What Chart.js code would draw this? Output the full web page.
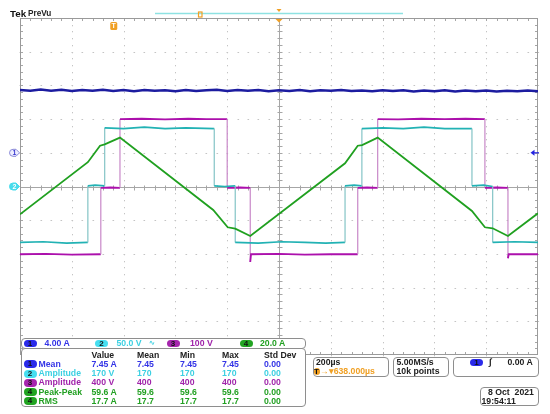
<!DOCTYPE html>
<html>
<head>
<meta charset="utf-8">
<script src="https://cdn.jsdelivr.net/npm/chart.js@4"></script>
<style>
body { margin: 0; background: #fff; }
#wrap { position: relative; width: 550px; height: 414px; overflow: hidden;
  font-family: "Liberation Sans", Arial, sans-serif; font-weight: bold; }
#wrap canvas { position: absolute; left: 0; top: 0; }
.t { position: absolute; white-space: pre; line-height: 1; }
.box { position: absolute; background: #fff; border: 1px solid #8e8e8e; border-radius: 4px; box-sizing: border-box; }
.pill { position: absolute; border-radius: 4px; text-align: center; color: #111; font-size: 8px; }
</style>
</head>
<body>
<div id="wrap"><canvas id="scope" width="550" height="414"></canvas></div>
<script>
// horizontal: 200 us/div, 10 divisions; vertical: 10 divisions
const timeTicks = [0, 200, 400, 600, 800, 1000, 1200, 1400, 1600, 1800, 2000];
const divTicks = [-5, -4, -3, -2, -1, 0, 1, 2, 3, 4, 5];
const triggerDelay = 638; // us, from trigger to screen centre

// channel settings (units per division, ground position in divisions)
const chScale = [4, 50, 100, 20];
const chOffset = [1, 0, 0, 0];

// ch1 current, one sample every 40 us
const ch1Step = 40;
const ch1Amps = [
  7.46, 7.36, 7.50, 7.38, 7.47, 7.33, 7.44, 7.37, 7.49, 7.35,
  7.44, 7.32, 7.46, 7.36, 7.42, 7.31, 7.45, 7.35, 7.41, 7.47,
  7.34, 7.44, 7.36, 7.46, 7.32, 7.42, 7.35, 7.45, 7.31, 7.41,
  7.36, 7.46, 7.33, 7.40, 7.30, 7.42, 7.34, 7.41, 7.29, 7.39,
  7.32, 7.41, 7.28, 7.38, 7.31, 7.40, 7.27, 7.37, 7.30, 7.39, 7.32
];

// ch2 voltage
const ch2Times = [0, 90, 180, 262, 262, 290, 327, 327, 400, 480, 560, 640, 750, 750, 790, 831,
  831, 920, 1010, 1100, 1180, 1255, 1255, 1290, 1320, 1320, 1400, 1480, 1560, 1640, 1745,
  1745, 1790, 1825, 1825, 1910, 2000];
const ch2Volts = [-83, -82, -84, -83, 1, 2, 1, 87, 86, 88, 86, 87, 86, 1, 0, 1,
  -83, -84, -82, -83, -84, -83, 1, 2, 1, 86, 87, 86, 88, 86, 86,
  1, 2, 0, -83, -82, -83];

// ch3 voltage
const ch3Times = [0, 100, 200, 312, 312, 350, 386, 386, 470, 560, 650, 720, 800, 800, 850, 889,
  889, 892, 1000, 1100, 1200, 1304, 1304, 1340, 1381, 1381, 1460, 1550, 1640, 1720, 1795,
  1795, 1840, 1884, 1884, 1887, 2000];
const ch3Volts = [-201, -200, -202, -201, -4, -3, -4, 200, 201, 199, 201, 200, 200, -4, -3, -4,
  -224, -201, -200, -202, -201, -201, -4, -3, -4, 200, 199, 201, 200, 201, 200,
  -4, -3, -4, -213, -201, -201];

// ch4 current
const ch4Times = [0, 262, 309, 327, 386, 746, 802, 831, 889, 1255, 1304, 1321, 1381, 1745, 1795, 1825, 1884, 2000];
const ch4Amps = [-16.5, 14.4, 24.2, 25.0, 29.0, -13.9, -24.2, -25.0, -29.4, 13.8, 24.2, 24.6, 29.0, -14.5, -24.2, -24.8, -29.4, -15.9];

// readouts
const chLabels = ['4.00 A', '50.0 V', '100 V', '20.0 A'];
const measCh = [1, 2, 3, 4, 4];
const measNames = ['Mean', 'Amplitude', 'Amplitude', 'Peak-Peak', 'RMS'];
const measValue = ['7.45 A', '170 V', '400 V', '59.6 A', '17.7 A'];
const measMean = ['7.45', '170', '400', '59.6', '17.7'];
const measMin = ['7.45', '170', '400', '59.6', '17.7'];
const measMax = ['7.45', '170', '400', '59.6', '17.7'];
const measStd = ['0.00', '0.00', '0.00', '0.00', '0.00'];
const measHeads = ['Value', 'Mean', 'Min', 'Max', 'Std Dev'];

const traceColor = ['#1c1ca0', '#22b2b4', '#ac10ac', '#20a020'];
const edgeColor = ['#1c1ca0', '#84c4c6', '#c888c8', '#20a020'];
const textColor = ['#3434e6', '#3cd0e2', '#a024aa', '#22a022'];
const pillColor = ['#2a2aea', '#46def0', '#a626ae', '#22a422'];

function toDiv(ch, times, values) {
  return times.map((t, i) => ({ x: t, y: chOffset[ch] + values[i] / chScale[ch] }));
}
const ch1Times = ch1Amps.map((v, i) => i * ch1Step);

function trace(ch, points, width) {
  return {
    data: points,
    borderColor: traceColor[ch],
    borderWidth: width,
    pointRadius: 0,
    tension: 0,
    segment: {
      borderColor: c => c.p0.parsed.x === c.p1.parsed.x ? edgeColor[ch] : undefined,
      borderWidth: c => c.p0.parsed.x === c.p1.parsed.x ? 1.2 : undefined
    }
  };
}

const graticule = {
  id: 'graticule',
  beforeDatasetsDraw(chart) {
    const { ctx, chartArea: a, scales: { x, y } } = chart;
    const tMin = timeTicks[0], tMax = timeTicks[timeTicks.length - 1];
    const centreT = (tMin + tMax) / 2;
    ctx.save();
    // dotted grid, one dot per fifth of a division
    ctx.fillStyle = '#c4c4c4';
    timeTicks.forEach(t => {
      if (t === tMin || t === tMax || t === centreT) return;
      const px = Math.round(x.getPixelForValue(t));
      for (let k = 0; k <= 50; k++) {
        ctx.fillRect(px, Math.round(y.getPixelForValue(-5 + k * 0.2)), 1, 1.3);
      }
    });
    divTicks.forEach(v => {
      if (v === -5 || v === 5 || v === 0) return;
      const py = Math.round(y.getPixelForValue(v));
      for (let k = 0; k <= 50; k++) {
        ctx.fillRect(Math.round(x.getPixelForValue(k * 40)) - 0.5, py, 1.6, 1);
      }
    });
    // centre cross with minor ticks
    const cx = Math.round(x.getPixelForValue(centreT)) + 0.5;
    const cy = Math.round(y.getPixelForValue(0)) + 0.5;
    ctx.strokeStyle = '#a6a6a6';
    ctx.lineWidth = 1;
    ctx.beginPath();
    ctx.moveTo(a.left, cy); ctx.lineTo(a.right, cy);
    ctx.moveTo(cx, a.top); ctx.lineTo(cx, a.bottom);
    for (let k = 1; k < 50; k++) {
      const px = Math.round(x.getPixelForValue(k * 40)) + 0.5;
      ctx.moveTo(px, cy - 2); ctx.lineTo(px, cy + 3);
      ctx.moveTo(px, a.top); ctx.lineTo(px, a.top + 3);
      ctx.moveTo(px, a.bottom); ctx.lineTo(px, a.bottom - 3);
      const py = Math.round(y.getPixelForValue(-5 + k * 0.2)) + 0.5;
      ctx.moveTo(cx - 2, py); ctx.lineTo(cx + 3, py);
      ctx.moveTo(a.left, py); ctx.lineTo(a.left + 3, py);
      ctx.moveTo(a.right, py); ctx.lineTo(a.right - 3, py);
    }
    ctx.stroke();
    // frame
    ctx.strokeStyle = '#9a9a9a';
    ctx.strokeRect(a.left + 0.5, a.top + 0.5, a.right - a.left - 1, a.bottom - a.top - 1);
    ctx.restore();
  }
};

function chMarker(ctx, yc, fill, stroke, txt, txtColor) {
  ctx.beginPath();
  ctx.moveTo(13, yc - 3.5);
  ctx.lineTo(16, yc - 3.5);
  ctx.lineTo(19.5, yc);
  ctx.lineTo(16, yc + 3.5);
  ctx.lineTo(13, yc + 3.5);
  ctx.arc(13, yc, 3.5, Math.PI / 2, Math.PI * 1.5);
  ctx.closePath();
  ctx.fillStyle = fill;
  ctx.fill();
  ctx.strokeStyle = stroke;
  ctx.lineWidth = 1;
  ctx.stroke();
  ctx.fillStyle = txtColor;
  ctx.font = 'bold 7px "Liberation Sans"';
  ctx.textAlign = 'center';
  ctx.textBaseline = 'middle';
  ctx.fillText(txt, 14.5, yc + 0.5);
}

const markers = {
  id: 'markers',
  afterDatasetsDraw(chart) {
    const { ctx, chartArea: a, scales: { x, y } } = chart;
    const centreT = (timeTicks[0] + timeTicks[timeTicks.length - 1]) / 2;
    const cx = x.getPixelForValue(centreT);
    ctx.save();
    // record view bar
    ctx.strokeStyle = '#8ee2e2';
    ctx.lineWidth = 1.5;
    ctx.beginPath(); ctx.moveTo(155, 13.5); ctx.lineTo(403, 13.5); ctx.stroke();
    ctx.strokeStyle = '#f0a024';
    ctx.lineWidth = 1.2;
    ctx.strokeRect(198.5, 12, 3.5, 5);
    ctx.fillStyle = '#f0a024';
    ctx.beginPath(); ctx.moveTo(cx - 2.5, 9); ctx.lineTo(cx + 2.5, 9); ctx.lineTo(cx, 12); ctx.fill();
    ctx.beginPath(); ctx.moveTo(cx - 3.5, a.top + 1); ctx.lineTo(cx + 3.5, a.top + 1); ctx.lineTo(cx, a.top + 4.5); ctx.fill();
    // trigger position
    const tx = x.getPixelForValue(centreT - triggerDelay);
    ctx.beginPath();
    ctx.roundRect(tx - 3.5, 22, 7, 8, 1.5);
    ctx.fill();
    ctx.fillStyle = '#fff';
    ctx.font = 'bold 7px "Liberation Sans"';
    ctx.textAlign = 'center';
    ctx.textBaseline = 'middle';
    ctx.fillText('T', tx, 26.3);
    // channel ground markers
    chMarker(ctx, y.getPixelForValue(chOffset[0]), '#eeeeff', '#8a8ad8', '1', '#3a3ad0');
    chMarker(ctx, y.getPixelForValue(chOffset[1]), '#48dcec', '#48dcec', '2', '#ffffff');
    // trigger level (ch1, 0.00 A)
    const ly = y.getPixelForValue(chOffset[0] + 0 / chScale[0]);
    ctx.fillStyle = '#2424e0';
    ctx.strokeStyle = '#2424e0';
    ctx.beginPath(); ctx.moveTo(530.5, ly); ctx.lineTo(534.5, ly - 3); ctx.lineTo(534.5, ly + 3); ctx.fill();
    ctx.lineWidth = 1.2;
    ctx.beginPath(); ctx.moveTo(534, ly); ctx.lineTo(539, ly); ctx.stroke();
    ctx.restore();
  }
};

new Chart(document.getElementById('scope').getContext('2d'), {
  type: 'line',
  data: {
    datasets: [
      trace(3, toDiv(3, ch4Times, ch4Amps), 1.8),
      trace(1, toDiv(1, ch2Times, ch2Volts), 1.7),
      trace(2, toDiv(2, ch3Times, ch3Volts), 1.8),
      trace(0, toDiv(0, ch1Times, ch1Amps), 2.5)
    ]
  },
  options: {
    responsive: false,
    animation: false,
    layout: { padding: { left: 20, top: 18, right: 12, bottom: 59 } },
    plugins: { legend: { display: false }, tooltip: { enabled: false } },
    scales: {
      x: { type: 'linear', min: timeTicks[0], max: timeTicks[timeTicks.length - 1], display: false },
      y: { type: 'linear', min: divTicks[0], max: divTicks[divTicks.length - 1], display: false }
    }
  },
  plugins: [graticule, markers]
});

// ---- readout overlay ----
const wrap = document.getElementById('wrap');
function label(str, x, yc, color, size) {
  const d = document.createElement('div');
  d.className = 't';
  d.textContent = str;
  d.style.left = x + 'px';
  d.style.top = (yc - size * 0.5) + 'px';
  d.style.fontSize = size + 'px';
  d.style.color = color;
  wrap.appendChild(d);
  return d;
}
function box(x, y, w, h) {
  const d = document.createElement('div');
  d.className = 'box';
  Object.assign(d.style, { left: x + 'px', top: y + 'px', width: w + 'px', height: h + 'px' });
  wrap.appendChild(d);
}
function pill(n, x, yc, w, h, fill) {
  const d = document.createElement('div');
  d.className = 'pill';
  d.textContent = n;
  Object.assign(d.style, { left: x + 'px', top: (yc - h / 2) + 'px', width: w + 'px', height: h + 'px',
    lineHeight: h + 'px', background: fill });
  wrap.appendChild(d);
}

label('Tek', 10, 14.3, '#111', 9.8);
label('PreVu', 28, 14, '#222', 8.2);

// channel bar
box(21, 338, 285, 11);
const barPillX = [23.5, 95, 166.5, 239.5];
const barTextX = [44.5, 116.5, 190, 260];
chLabels.forEach((s, i) => {
  pill(String(i + 1), barPillX[i], 343.5, 13, 7, pillColor[i]);
  label(s, barTextX[i], 343.7, textColor[i], 8.7);
});
label('\u223F', 149, 342.8, textColor[1], 7);

// measurement table
box(21, 348, 285, 58.5);
const colX = [91.5, 137, 180, 222, 264];
measHeads.forEach((h, i) => label(h, colX[i], 355.2, '#202020', 8.7));
const rowY = [364.2, 373.5, 382.8, 392.1, 401.4];
measNames.forEach((name, r) => {
  const c = measCh[r] - 1;
  pill(String(measCh[r]), 23.5, rowY[r], 13, 8, pillColor[c]);
  label(name, 38.5, rowY[r], textColor[c], 8.7);
  [measValue[r], measMean[r], measMin[r], measMax[r], measStd[r]].forEach((v, k) =>
    label(v, colX[k], rowY[r], textColor[c], 8.7));
});

// timebase / acquisition / trigger / date boxes
box(312.5, 356.5, 76, 20);
label('200\u00B5s', 316, 362.5, '#202020', 8.7);
pill('T', 313.5, 371.2, 6, 7, '#f0a024');
label('\u2192\u25BE638.000\u00B5s', 320, 371.2, '#f0a024', 8.7);
box(393, 356.5, 55.5, 20);
label('5.00MS/s', 396.5, 362.5, '#202020', 8.7);
label('10k points', 396.5, 371.2, '#202020', 8.7);
box(453, 356.5, 85.5, 20);
pill('1', 470, 362.5, 13, 7, pillColor[0]);
label('\u222B', 489, 362.5, '#202020', 9);
label('0.00 A', 507.5, 362.5, '#202020', 8.7);
box(480, 387, 58.5, 18.5);
label('8 Oct  2021', 488, 392.8, '#202020', 8.7);
label('19:54:11', 481.5, 401.3, '#202020', 8.7);
</script>
</body>
</html>
